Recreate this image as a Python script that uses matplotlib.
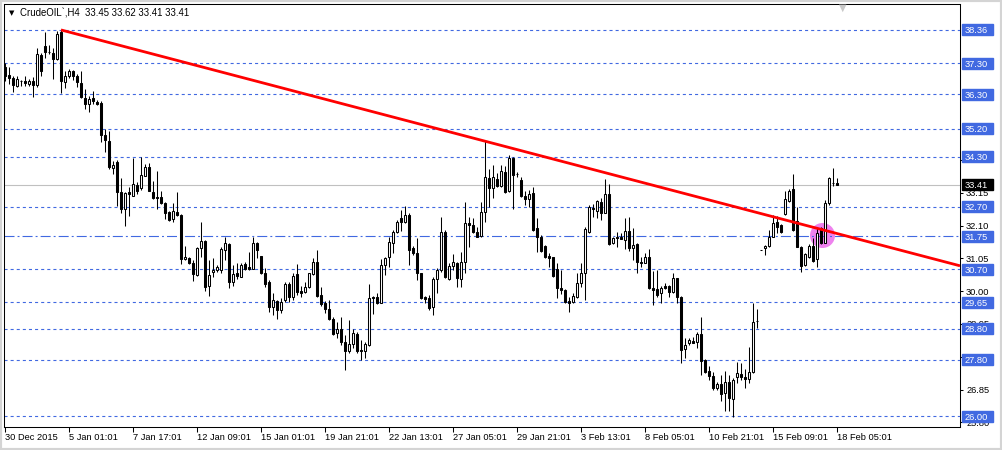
import matplotlib
matplotlib.use('Agg')
import matplotlib.pyplot as plt
from matplotlib.patches import Rectangle
import numpy as np

plt.rcParams['font.family'] = ['Liberation Sans', 'DejaVu Sans']
plt.rcParams['lines.scale_dashes'] = False

# H4 candles (one row per bar)
opens = [37.16, 36.93, 36.82, 36.57, 36.74, 36.71, 36.64, 36.74, 36.60, 37.57,
         37.83, 37.66, 37.62, 37.42, 38.29, 36.68, 36.90, 37.04, 36.87, 36.67,
         36.18, 35.99, 36.18, 36.04, 36.03, 35.00, 34.82, 33.94, 34.14, 33.16,
         32.63, 33.18, 33.06, 33.41, 33.30, 33.70, 33.98, 33.18, 33.02, 33.00,
         32.82, 32.52, 32.30, 32.54, 32.45, 31.02, 31.06, 30.90, 30.53, 31.38,
         31.61, 30.15, 30.61, 30.68, 30.68, 31.30, 31.51, 30.30, 30.57, 30.46,
         30.87, 30.76, 30.72, 31.55, 31.12, 30.57, 30.28, 29.50, 29.69, 29.40,
         29.72, 30.23, 29.82, 30.55, 30.00, 29.98, 30.12, 30.55, 30.94, 29.87,
         29.61, 29.42, 29.10, 28.65, 28.78, 28.38, 28.09, 28.31, 28.63, 28.11,
         28.07, 28.27, 29.81, 29.80, 29.63, 30.83, 31.08, 31.53, 31.88, 32.33,
         32.22, 32.44, 31.39, 31.23, 30.57, 29.80, 29.77, 29.50, 30.38, 30.68,
         31.90, 30.38, 30.81, 30.91, 30.38, 30.92, 32.17, 32.12, 31.88, 31.77,
         32.52, 33.63, 33.29, 33.58, 33.37, 33.82, 33.22, 34.25, 33.75, 33.56,
         33.05, 32.94, 33.13, 32.01, 31.74, 31.45, 31.12, 31.08, 30.70, 30.09,
         30.04, 29.68, 29.66, 29.82, 30.25, 30.59, 31.90, 32.65, 32.58, 32.86,
         32.51, 33.11, 31.53, 31.72, 31.74, 31.64, 31.92, 31.39, 31.51, 30.94,
         30.91, 31.10, 30.09, 30.06, 29.93, 30.16, 30.17, 29.96, 30.41, 29.82,
         28.14, 28.35, 28.40, 28.38, 28.63, 27.79, 27.44, 27.28, 26.89, 27.03,
         26.73, 27.10, 26.54, 27.24, 27.34, 27.24, 27.18, 27.40, 29.05, 31.32,
         31.37, 31.45, 31.74, 32.22, 32.12, 32.47, 32.89, 33.26, 32.25, 31.40,
         30.84, 31.10, 31.44, 31.02, 32.01, 31.55, 32.83, 33.45, 33.45]
highs = [37.29, 37.16, 36.87, 36.87, 36.76, 36.87, 36.79, 36.84, 37.78, 37.61,
         38.29, 37.88, 37.77, 38.34, 38.36, 37.06, 37.11, 37.08, 36.95, 37.03,
         36.47, 36.23, 36.39, 36.12, 36.10, 35.19, 35.14, 34.18, 34.20, 33.62,
         33.16, 33.32, 34.25, 33.48, 34.28, 34.07, 34.09, 33.54, 33.86, 33.19,
         32.84, 32.58, 32.81, 33.16, 32.47, 31.44, 31.08, 30.98, 31.42, 32.20,
         31.64, 30.99, 31.05, 30.84, 31.40, 31.74, 31.55, 30.84, 30.89, 30.89,
         30.94, 31.24, 31.74, 31.57, 31.12, 30.73, 30.36, 29.93, 29.72, 29.77,
         30.30, 30.30, 30.57, 30.87, 30.16, 30.30, 30.59, 31.05, 31.32, 30.14,
         29.69, 29.72, 29.18, 29.02, 29.18, 28.59, 29.07, 28.78, 28.70, 28.43,
         28.38, 30.23, 29.84, 29.95, 31.03, 31.08, 31.74, 31.96, 32.28, 32.60,
         32.72, 32.49, 31.45, 31.69, 30.59, 29.84, 29.86, 30.46, 30.73, 32.38,
         31.96, 30.89, 31.19, 30.94, 31.26, 32.86, 32.36, 32.33, 32.06, 32.86,
         34.82, 33.90, 34.04, 33.77, 34.04, 34.01, 34.36, 34.30, 33.82, 33.66,
         33.22, 33.24, 33.34, 32.33, 31.80, 31.48, 31.21, 31.10, 30.89, 30.68,
         30.06, 29.82, 29.93, 30.57, 30.89, 32.04, 32.76, 32.79, 32.92, 32.97,
         33.58, 33.43, 31.72, 31.90, 31.85, 32.33, 32.38, 32.01, 31.53, 31.10,
         31.21, 31.34, 30.65, 30.68, 30.16, 30.27, 30.19, 30.57, 30.41, 29.84,
         28.49, 28.49, 28.52, 28.70, 29.18, 27.82, 27.60, 27.42, 27.10, 27.31,
         27.45, 27.31, 27.21, 27.74, 27.69, 27.50, 28.20, 29.63, 29.43, 31.32,
         31.48, 31.96, 32.44, 32.40, 32.15, 33.22, 33.26, 33.75, 32.70, 31.45,
         31.23, 31.51, 31.69, 32.06, 32.06, 32.92, 33.66, 33.93, 33.62]
lows = [36.72, 36.63, 36.36, 36.52, 36.58, 36.55, 36.58, 36.20, 36.52, 36.87,
        37.45, 37.59, 36.78, 37.40, 36.33, 36.49, 36.82, 36.77, 36.52, 36.17,
        35.83, 35.72, 35.99, 35.96, 34.76, 34.44, 33.91, 33.75, 32.74, 32.49,
        32.07, 32.39, 33.03, 33.11, 33.25, 33.67, 33.19, 32.95, 32.63, 32.79,
        32.31, 32.26, 32.20, 32.42, 30.87, 30.98, 30.87, 30.33, 30.49, 31.08,
        30.01, 29.85, 30.46, 30.62, 30.59, 30.98, 30.09, 30.16, 30.38, 30.44,
        30.66, 30.68, 30.70, 31.05, 30.54, 30.14, 29.34, 29.24, 29.10, 29.31,
        29.66, 29.66, 29.72, 29.88, 29.82, 29.95, 30.09, 30.52, 29.82, 29.52,
        29.31, 29.08, 28.59, 28.49, 28.27, 27.47, 28.01, 28.17, 28.01, 27.80,
        27.85, 28.24, 29.27, 29.59, 29.61, 30.52, 30.78, 31.21, 31.85, 31.94,
        32.17, 30.84, 31.16, 30.34, 29.74, 29.61, 29.40, 29.23, 29.93, 30.62,
        30.41, 30.36, 30.68, 30.12, 30.14, 30.57, 31.42, 31.85, 31.72, 31.74,
        32.22, 32.70, 32.97, 33.32, 33.34, 33.15, 33.18, 32.62, 33.66, 33.02,
        32.76, 32.70, 31.94, 31.26, 31.24, 31.05, 30.76, 30.46, 29.77, 29.91,
        29.63, 29.34, 29.61, 29.77, 30.14, 29.72, 31.85, 32.36, 32.33, 32.28,
        32.49, 31.48, 31.50, 31.40, 31.66, 31.34, 31.29, 30.99, 30.59, 30.76,
        30.89, 30.06, 29.55, 29.80, 29.63, 30.06, 29.82, 29.93, 29.63, 27.69,
        27.85, 28.27, 28.33, 28.17, 27.31, 27.37, 27.17, 26.83, 26.83, 26.49,
        26.17, 26.17, 25.98, 27.05, 27.15, 26.89, 27.05, 27.37, 28.81, 31.32,
        31.16, 31.40, 31.72, 31.87, 31.87, 32.44, 32.86, 31.94, 31.40, 30.62,
        30.80, 31.05, 30.94, 30.76, 31.51, 31.53, 32.76, 33.36, 33.41]
closes = [36.87, 36.82, 36.59, 36.80, 36.73, 36.66, 36.73, 36.60, 37.59, 37.06,
          37.64, 37.64, 37.43, 38.23, 36.72, 36.90, 37.03, 36.87, 36.68, 36.20,
          35.99, 36.16, 36.07, 35.99, 35.00, 34.84, 33.96, 34.04, 33.16, 32.63,
          33.14, 33.11, 33.43, 33.19, 33.72, 33.98, 33.22, 32.98, 32.97, 32.81,
          32.49, 32.28, 32.55, 32.44, 31.02, 31.08, 30.89, 30.55, 31.38, 31.59,
          30.12, 30.53, 30.69, 30.76, 31.34, 31.53, 30.30, 30.54, 30.48, 30.84,
          30.70, 30.71, 31.53, 31.30, 30.57, 30.23, 29.50, 29.72, 29.40, 29.65,
          30.23, 29.82, 30.49, 29.98, 29.93, 30.14, 30.57, 30.92, 29.84, 29.59,
          29.42, 29.10, 28.63, 28.78, 28.38, 28.09, 28.31, 28.65, 28.09, 28.07,
          28.31, 29.77, 29.77, 29.63, 30.84, 31.05, 31.58, 31.88, 32.20, 32.21,
          32.44, 31.32, 31.21, 30.57, 29.77, 29.74, 29.45, 30.38, 30.68, 31.90,
          30.44, 30.81, 30.92, 30.41, 30.92, 32.17, 32.12, 31.90, 31.74, 32.52,
          33.64, 33.29, 33.66, 33.37, 33.86, 33.18, 34.25, 33.72, 33.75, 33.05,
          32.94, 33.11, 31.96, 31.74, 31.29, 31.08, 31.07, 30.49, 30.09, 30.02,
          29.66, 29.63, 29.84, 30.25, 30.57, 31.98, 32.70, 32.62, 32.89, 32.51,
          33.11, 31.51, 31.69, 31.69, 31.68, 31.92, 31.37, 31.48, 30.94, 30.89,
          31.10, 30.09, 30.04, 29.87, 30.09, 30.11, 29.96, 30.41, 29.80, 28.11,
          28.27, 28.43, 28.35, 28.63, 27.77, 27.42, 27.28, 26.89, 27.03, 26.71,
          27.08, 26.57, 27.15, 27.37, 27.24, 27.18, 27.40, 29.00, 29.04, 31.32,
          31.44, 31.74, 32.17, 32.06, 31.90, 32.94, 33.22, 31.96, 31.42, 30.80,
          31.19, 31.44, 30.97, 31.85, 31.53, 32.83, 33.61, 33.45, 33.41]

date_labels = ['30 Dec 2015', '5 Jan 01:01', '7 Jan 17:01', '12 Jan 09:01', '15 Jan 01:01',
               '19 Jan 21:01', '22 Jan 13:01', '27 Jan 05:01', '29 Jan 21:01', '3 Feb 13:01',
               '8 Feb 05:01', '10 Feb 21:01', '15 Feb 09:01', '18 Feb 05:01']
bars_per_label = 16

level_prices = [38.36, 37.30, 36.30, 35.20, 34.30, 32.70, 31.75, 30.70, 29.65, 28.80, 27.80, 26.00]
dashdot_level = 31.75
scale_ticks = [25.80, 26.85, 27.90, 28.95, 30.00, 31.05, 32.10, 33.15, 34.20]
last_price = 33.41

trend_bar = [14, 238.75]
trend_price = [38.36, 30.81]
highlight_bar = 204.25
highlight_price = 31.81

title = 'CrudeOIL`,H4  33.45 33.62 33.41 33.41'

W, H = 1002, 450
fig = plt.figure(figsize=(W / 100, H / 100), dpi=100)
ax = fig.add_axes([4 / W, 1 - 426.7 / H, 956 / W, 422.7 / H])
xmin, xmax = -0.25, 238.75
ymin, ymax = 25.66, 39.19
ax.set_xlim(xmin, xmax)
ax.set_ylim(ymin, ymax)
px_y = 422.7 / (ymax - ymin)
ax_w = 956

blue = '#4169e1'
opens, highs, lows, closes = map(np.array, (opens, highs, lows, closes))
bars = np.arange(len(opens))
up = closes >= opens

ax.vlines(bars, lows, highs, color='black', lw=0.75, zorder=3)
ax.bar(bars, closes - opens, bottom=opens, width=0.55,
       color=np.where(up, 'white', 'black'), edgecolor='black', linewidth=0.75, zorder=4)

for p in level_prices:
    ls = (0, (7.2, 2.2, 1.4, 2.2)) if p == dashdot_level else (0, (2.2, 2.2))
    ax.axhline(p, color=blue, lw=0.8, ls=ls, zorder=2)
ax.axhline(last_price, color='#c0c0c0', lw=0.8, zorder=1)

ax.plot(trend_bar, trend_price, color='red', lw=2.0, solid_capstyle='butt', zorder=5)
ax.scatter([highlight_bar], [highlight_price], s=(25 * 0.72) ** 2, color='#ee82ee',
           linewidths=0, zorder=1.5)

# right price scale
ax.yaxis.tick_right()
ax.set_yticks(scale_ticks)
ax.set_yticklabels([f'{v:.2f}' for v in scale_ticks])
ax.tick_params(axis='y', direction='out', length=2.2, width=0.75, pad=2.2, labelsize=6.7)

ax.set_xticks(bars[::bars_per_label])
ax.set_xticklabels(date_labels)
ax.tick_params(axis='x', direction='out', length=3.6, width=0.75, pad=1.2, labelsize=6.7)
for lab in ax.get_xticklabels():
    lab.set_horizontalalignment('left')

for s in ax.spines.values():
    s.set_linewidth(0.75)
    s.set_color('black')

tr = ax.get_yaxis_transform()
box_x = 1 + 2 / ax_w
box_w = 31 / ax_w
box_h = 11 / px_y
for p in level_prices:
    ax.add_patch(Rectangle((box_x, p - box_h / 2), box_w, box_h, transform=tr,
                           color=blue, clip_on=False, zorder=6))
    ax.text(box_x + 3 / ax_w, p, f'{p:.2f}', transform=tr, color='white', fontsize=6.7,
            va='center_baseline', ha='left', clip_on=False, zorder=7)
ax.add_patch(Rectangle((box_x, last_price - box_h / 2), box_w, box_h, transform=tr,
                       color='black', clip_on=False, zorder=6))
ax.text(box_x + 3 / ax_w, last_price, f'{last_price:.2f}', transform=tr, color='white',
        fontsize=6.7, va='center_baseline', ha='left', clip_on=False, zorder=7)

fig.text(12 / W, 1 - 13 / H, '▼', family='DejaVu Sans', fontsize=5, ha='center', va='center')
fig.text(20 / W, 1 - 13 / H, title, fontsize=6.9, ha='left', va='center')
fig.text(843 / W, 1 - 8 / H, '▼', family='DejaVu Sans', fontsize=7, color='#c8c8c8',
         ha='center', va='center')

fig.add_artist(Rectangle((0, 0), 1, 1, transform=fig.transFigure, fill=False,
                         ec='#d4d4d4', lw=3))

fig.savefig('out.png', dpi=100)
